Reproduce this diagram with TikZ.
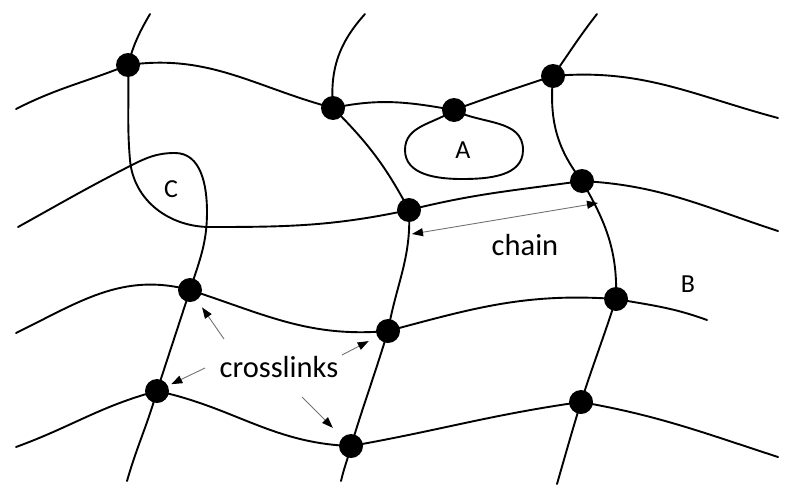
\documentclass[tikz,border=0pt]{standalone}
\usepackage{fontspec}
\setmainfont{Carlito}
\usetikzlibrary{arrows.meta}
\begin{document}
\begin{tikzpicture}[x=1pt,y=1pt,
  chainline/.style={line width=1.9pt, black, line cap=round},
  dot/.style={circle, fill=black, inner sep=0pt, minimum size=24pt},
  lbl/.style={font=\fontsize{26}{30}\selectfont, inner sep=0pt, anchor=base},
  biglbl/.style={font=\fontsize{30.5}{36}\selectfont, inner sep=0pt, anchor=base},
  ptr/.style={draw=black!55, line width=0.9pt, -{Triangle[length=11pt,width=8pt,color=black]}},
  dptr/.style={draw=black!55, line width=0.9pt, {Triangle[length=11pt,width=8pt,color=black]}-{Triangle[length=11pt,width=8pt,color=black]}},
  ]
\useasboundingbox (0,0) rectangle (800,-498);
% crosslink dots
\node[dot] (n1) at (128,-65) {};
\node[dot] (n2) at (333,-108) {};
\node[dot] (n3) at (454,-110) {};
\node[dot] (n4) at (553,-76) {};
\node[dot] (n5) at (582,-181) {};
\node[dot] (n6) at (409,-210) {};
\node[dot] (n7) at (190,-290) {};
\node[dot] (n8) at (616,-299) {};
\node[dot] (n9) at (388,-331) {};
\node[dot] (n10) at (157,-391) {};
\node[dot] (n11) at (581,-402) {};
\node[dot] (n12) at (351,-446) {};
% free chain ends
\coordinate (e1) at (16,-109);
\coordinate (e2) at (778,-118);
\coordinate (e3) at (778,-231);
\coordinate (e4) at (707,-320);
\coordinate (e5) at (778,-457);
\coordinate (e6) at (16,-333);
\coordinate (e7) at (16,-447);
\coordinate (e8) at (18,-227);
\coordinate (t1) at (150,-14);
\coordinate (t2) at (365,-14);
\coordinate (t3) at (597,-14);
\coordinate (b1) at (127,-481);
\coordinate (b2) at (341,-481);
\coordinate (b3) at (557,-484);
% chains
\draw[chainline] (e1) to[out=27,in=202] (n1.center) to[out=8,in=165] (n2.center)
  to[out=12,in=170] (n3.center) to[out=20,in=198] (n4.center) to[out=5,in=165] (e2);
\draw[chainline] (t1) to[out=240,in=75] (n1.center) to[out=-88,in=95] (130,-160)
  to[out=-85,in=180] (210,-227) to[out=0,in=192] (n6.center)
  to[out=14,in=188] (n5.center) to[out=-3,in=162] (e3);
\draw[chainline] (t2) to[out=228,in=95] (n2.center) to[out=-45,in=118] (n6.center)
  to[out=-87,in=80] (n9.center) to[out=-107,in=73] (n12.center) to[out=-104,in=77] (b2);
\draw[chainline] (t3) to[out=232,in=55] (n4.center) to[out=-95,in=128] (n5.center)
  to[out=-60,in=88] (n8.center) to[out=-108,in=72] (n11.center) to[out=-107,in=74] (b3);
\draw[chainline] (e8) to[out=29,in=207] (130,-166) to[out=27,in=180] (175,-153)
  to[out=0,in=90] (207,-212) to[out=-90,in=72] (n7.center)
  to[out=-108,in=72] (n10.center) to[out=-106,in=74] (b1);
\draw[chainline] (e6) to[out=26,in=165] (n7.center) to[out=-18,in=185] (n9.center)
  to[out=15,in=176] (n8.center) to[out=-10,in=160] (e4);
\draw[chainline] (e7) to[out=20,in=195] (n10.center) to[out=-12,in=178] (n12.center)
  to[out=10,in=188] (n11.center) to[out=-10,in=162] (e5);
% loop A
\draw[chainline] (n3.center) to[out=-145,in=90] (405,-150) to[out=-90,in=180] (462,-179)
  to[out=0,in=-90] (523,-150) to[out=90,in=-28] (n3.center);
% labels
\node[lbl] (A) at (463,-158) {A};
\node[lbl] (B) at (688,-292) {B};
\node[lbl] (C) at (171,-197) {C};
\node[biglbl] (chainlbl) at (525,-255) {chain};
\node[biglbl] (xl) at (279,-377) {crosslinks};
% arrows
\coordinate (ca) at (412,-234);
\coordinate (cb) at (598,-203);
\draw[dptr] (ca) -- (cb);
\coordinate (x1) at (224,-339);
\coordinate (x2) at (205,-368);
\coordinate (x3) at (342,-355);
\coordinate (x4) at (302,-397);
\draw[ptr, shorten >=9pt] (x1) -- (n7);
\draw[ptr, shorten >=3.6pt] (x2) -- (n10);
\draw[ptr, shorten >=9.6pt] (x3) -- (n9);
\draw[ptr, shorten >=13.5pt] (x4) -- (n12);
\end{tikzpicture}
\end{document}
